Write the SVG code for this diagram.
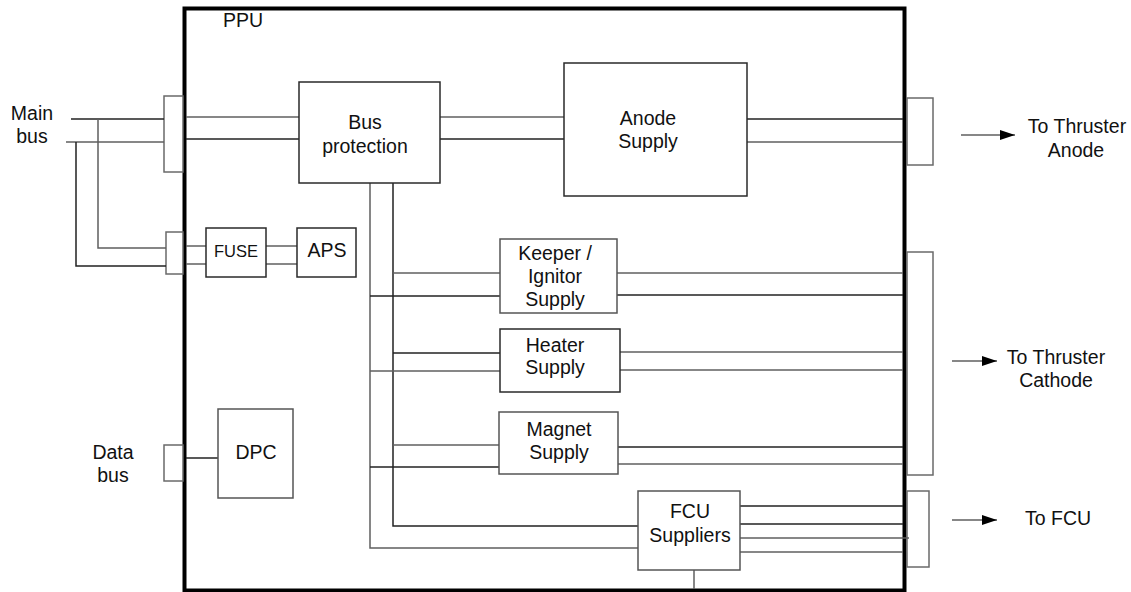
<svg xmlns="http://www.w3.org/2000/svg" width="1131" height="592" viewBox="0 0 1131 592">
<style>
text{font-family:"Liberation Sans",Arial,sans-serif;font-size:19.5px;fill:#111;text-anchor:middle}
.box{fill:#fff;stroke:#2a2a2a;stroke-width:1.5}
.boxg{fill:#fff;stroke:#555;stroke-width:1.5}
.port{fill:#fff;stroke:#6a6a6a;stroke-width:1.5}
.k{fill:none;stroke:#222;stroke-width:1.5}
.g{fill:none;stroke:#5f5f5f;stroke-width:1.5}
</style>
<defs>
<marker id="ah" markerUnits="userSpaceOnUse" markerWidth="16" markerHeight="12" refX="15" refY="5" orient="auto">
<path d="M0,0 L15,5 L0,10 z" fill="#000"/>
</marker>
</defs>
<rect width="1131" height="592" fill="#fff"/>
<g id="ppu">
<rect x="184.5" y="8.5" width="720" height="582" fill="none" stroke="#000" stroke-width="4"/>
<text x="243" y="27">PPU</text>
</g>
<g id="ports">
<rect class="port" x="164" y="96" width="19" height="76"/>
<rect class="port" x="166" y="232" width="17" height="42"/>
<rect class="port" x="164" y="445" width="19" height="36"/>
<rect class="port" x="907" y="98" width="26" height="67"/>
<rect class="port" x="907" y="252" width="26" height="223"/>
<rect class="port" x="907" y="491" width="22" height="76"/>
</g>
<g id="connectors">
<path class="k" d="M71,119 H164"/>
<path class="g" d="M66,142 H164"/>
<path class="g" d="M98,119 V248 H166"/>
<path class="k" d="M76,142 V266 H166"/>
<path class="g" d="M186,117 H299"/>
<path class="k" d="M186,139 H299"/>
<path class="g" d="M440,117 H564"/>
<path class="k" d="M440,139 H564"/>
<path class="k" d="M747,119 H903"/>
<path class="g" d="M747,142 H903"/>
<path class="g" d="M186,246 H206"/>
<path class="g" d="M186,264 H206"/>
<path class="g" d="M266,246 H297"/>
<path class="g" d="M266,264 H297"/>
<path class="g" d="M370,183 V548 H638"/>
<path class="k" d="M393,183 V526 H638"/>
<path class="g" d="M393,273 H500"/>
<path class="k" d="M370,296 H500"/>
<path class="k" d="M393,353 H500"/>
<path class="g" d="M370,371 H500"/>
<path class="g" d="M393,445 H499"/>
<path class="k" d="M370,467 H499"/>
<path class="g" d="M617,273 H903"/>
<path class="k" d="M617,295 H903"/>
<path class="g" d="M620,352 H903"/>
<path class="g" d="M620,370 H903"/>
<path class="k" d="M618,447 H903"/>
<path class="g" d="M618,464 H903"/>
<path class="k" d="M737,506 H903"/>
<path class="k" d="M740,524 H903"/>
<path class="g" d="M740,538 H909"/>
<path class="g" d="M740,552 H903"/>
<path class="g" d="M694,570 V589"/>
<path class="k" d="M186,458 H218"/>
<path class="g" d="M961,135 H1015" marker-end="url(#ah)"/>
<path class="g" d="M952,361 H997" marker-end="url(#ah)"/>
<path class="g" d="M952,520 H997" marker-end="url(#ah)"/>
</g>
<g id="bus-protection">
<rect class="box" x="299" y="82" width="141" height="101"/>
<text x="365" y="129">Bus</text>
<text x="365" y="153">protection</text>
</g>
<g id="anode-supply">
<rect class="box" x="564" y="63" width="183" height="133"/>
<text x="648" y="125">Anode</text>
<text x="648" y="148">Supply</text>
</g>
<g id="fuse">
<rect class="box" x="206" y="228" width="60" height="49"/>
<text x="236" y="257" style="font-size:16.5px">FUSE</text>
</g>
<g id="aps">
<rect class="box" x="297" y="228" width="59" height="49"/>
<text x="327" y="257">APS</text>
</g>
<g id="keeper-supply">
<rect class="boxg" x="500" y="239" width="117" height="74"/>
<text x="555" y="260">Keeper /</text>
<text x="555" y="283">Ignitor</text>
<text x="555" y="306">Supply</text>
</g>
<g id="heater-supply">
<rect class="box" x="500" y="329" width="120" height="63"/>
<text x="555" y="352">Heater</text>
<text x="555" y="374">Supply</text>
</g>
<g id="magnet-supply">
<rect class="boxg" x="499" y="412" width="119" height="62"/>
<text x="559" y="436">Magnet</text>
<text x="559" y="459">Supply</text>
</g>
<g id="fcu-suppliers">
<rect class="boxg" x="638" y="491" width="102" height="79"/>
<text x="690" y="518">FCU</text>
<text x="690" y="542">Suppliers</text>
</g>
<g id="dpc">
<rect class="boxg" x="218" y="409" width="75" height="89"/>
<text x="256" y="459">DPC</text>
</g>
<g id="labels">
<text x="32" y="120">Main</text>
<text x="32" y="143">bus</text>
<text x="113" y="459">Data</text>
<text x="113" y="482">bus</text>
<text x="1077" y="133">To Thruster</text>
<text x="1076" y="157">Anode</text>
<text x="1056" y="364">To Thruster</text>
<text x="1056" y="387">Cathode</text>
<text x="1058" y="525">To FCU</text>
</g>
</svg>
